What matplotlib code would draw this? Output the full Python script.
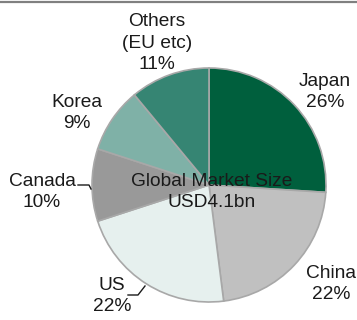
import matplotlib
matplotlib.use('Agg')
import matplotlib.pyplot as plt
from matplotlib.lines import Line2D

regions = ['Japan', 'China', 'US', 'Canada', 'Korea', 'Others\n(EU etc)']
shares = [26, 22, 22, 10, 9, 11]
colors = ['#005f3d', '#c0c0c0', '#e6f0ee', '#999999', '#7fb1a7', '#368573']
center_text = 'Global Market Size\nUSD4.1bn'

# label block centres in pixel coords (x, y from top)
label_pos = [(325, 92), (331, 284), (112, 296), (42, 192), (77, 113), (157, 43)]

W, H = 357, 320
fig = plt.figure(figsize=(W / 100, H / 100), dpi=100)
ax = fig.add_axes([0, 0, 1, 1])

cx, cy, r = 209, H - 185, 117
ax.pie(shares, colors=colors, startangle=90, counterclock=False,
       center=(cx, cy), radius=r,
       wedgeprops=dict(edgecolor='#a8a8a8', linewidth=1.2))
ax.set_aspect('auto')
ax.set_xlim(0, W)
ax.set_ylim(0, H)
ax.axis('off')

font = dict(family='Liberation Sans', fontsize=13.8, color='#1a1a1a',
            ha='center', va='center', linespacing=1.38)

for name, val, (x, y) in zip(regions, shares, label_pos):
    ax.text(x, H - y, f'{name}\n{val}%', **font)

ax.text(212, H - 192, center_text, **font)

# leader lines for Canada and US
ax.plot([78, 89, 91], [H - 185, H - 185, H - 189], color='#1a1a1a', lw=1)
ax.plot([128, 138, 145], [H - 295, H - 295, H - 286], color='#1a1a1a', lw=1)

# rule across the top
fig.add_artist(Line2D([0, 356 / W], [1 - 1.5 / H, 1 - 1.5 / H],
                      color='#808080', lw=1.6, transform=fig.transFigure))

fig.savefig('out.png', dpi=100)
